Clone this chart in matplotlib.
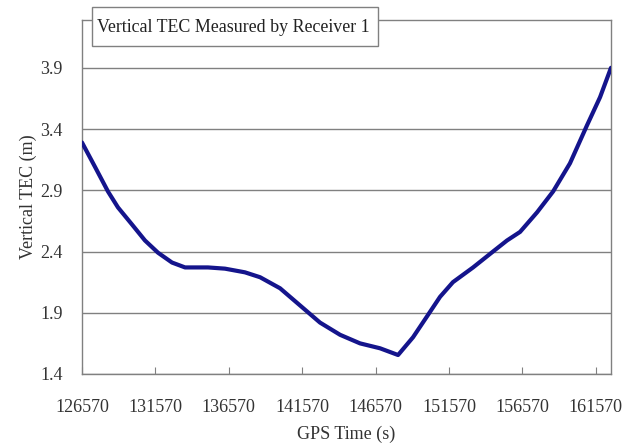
import matplotlib.pyplot as plt
from matplotlib.patches import Rectangle

# GPS time (s) and vertical TEC (m)
gps_time = [126570, 127460, 128340, 129020, 129980, 130860, 131750, 132700, 133590,
            135150, 136310, 137670, 138700, 140060, 141420, 142780, 144150, 145510,
            146870, 148100, 149120, 150070, 150960, 151840, 153210, 154570, 155520,
            156410, 157570, 158660, 159810, 160970, 161860, 162605]
tec = [3.29, 3.09, 2.89, 2.76, 2.62, 2.49, 2.39, 2.31, 2.27,
       2.27, 2.26, 2.23, 2.19, 2.10, 1.96, 1.82, 1.72, 1.65,
       1.61, 1.555, 1.70, 1.87, 2.03, 2.15, 2.27, 2.40, 2.49,
       2.56, 2.72, 2.89, 3.12, 3.43, 3.66, 3.90]

xticks = [126570, 131570, 136570, 141570, 146570, 151570, 156570, 161570]
yticks = [1.4, 1.9, 2.4, 2.9, 3.4, 3.9]
title = "Vertical TEC Measured by Receiver 1"

plt.rcParams['font.family'] = ['Liberation Serif', 'DejaVu Serif']

W, H = 638, 443
fig = plt.figure(figsize=(W / 100, H / 100), dpi=100)
ax = fig.add_axes([82 / W, 1 - 374 / H, (611 - 82) / W, (374 - 20) / H])

ax.plot(gps_time, tec, color='#14148c', lw=3, solid_capstyle='round',
        solid_joinstyle='round', zorder=3)

ax.set_xlim(126570, 162605)
ax.set_ylim(1.4, 4.29)
ax.set_xticks(xticks)
ax.set_xticklabels([str(t) for t in xticks], fontsize=13, color='#333333')
ax.set_yticks(yticks)
ax.set_yticklabels([f"{v:.1f}" for v in yticks], fontsize=13, color='#333333')
ax.tick_params(axis='x', direction='in', length=5, color='#808080', pad=18)
ax.tick_params(axis='y', length=0, pad=14)

ax.grid(axis='y', color='#808080', lw=1)
ax.set_axisbelow(True)
for s in ax.spines.values():
    s.set_color('#808080')
    s.set_linewidth(1)

ax.set_xlabel("GPS Time (s)", fontsize=13, color='#333333', labelpad=7)
ax.set_ylabel("Vertical TEC (m)", fontsize=13, color='#333333', labelpad=2)

# title box overlapping the top of the plot area
fig.patches.append(Rectangle((92 / W, 1 - 46 / H), (378 - 92) / W, 39 / H,
                             transform=fig.transFigure, facecolor='white',
                             edgecolor='#808080', lw=1, zorder=5))
fig.text(97 / W, 1 - 27 / H, title, fontsize=12.9, color='#222222',
         va='center', ha='left', zorder=6)

fig.savefig("out.png", dpi=100)
